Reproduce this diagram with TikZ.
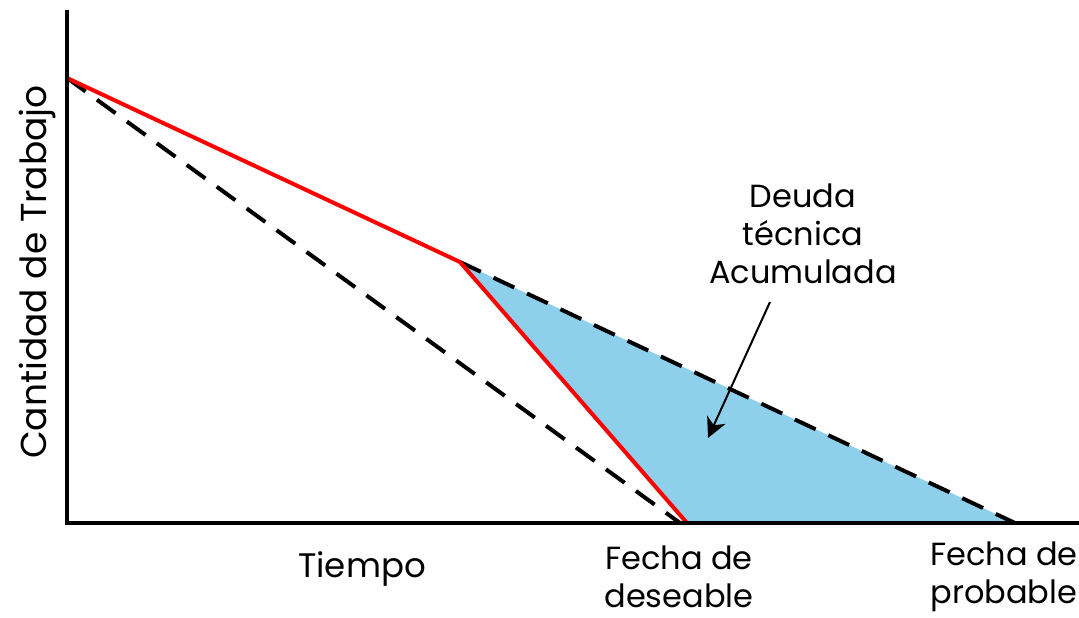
\documentclass[tikz,border=0pt]{standalone}
\usepackage{fontspec}
\setmainfont{Poppins}
\usetikzlibrary{positioning,calc}
\usetikzlibrary{arrows,arrows.meta}
\definecolor{deuda}{HTML}{8ECFEC}

\begin{document}
\begin{tikzpicture}[>={Stealth[length=20pt, width=20pt, inset=6pt]}, x=1pt, y=-1pt,
    eje/.style={line width=4.5pt},
    plan/.style={line width=4pt, dash pattern=on 23pt off 14pt},
    real/.style={red, line width=4pt},
    etiqueta/.style={font=\fontsize{32}{38}\selectfont, align=center, inner sep=0pt}]

    \useasboundingbox (0, 0) rectangle (1079, 618);

    \def\ox{67}
    \def\oy{523}
    \coordinate (o) at (\ox, \oy);
    \coordinate (ytop) at (\ox, 10);
    \coordinate (xend) at (1079, \oy);
    \coordinate (inicio) at (\ox, 78);
    \coordinate (quiebre) at (460, 262);
    \coordinate (deseable) at (687, \oy);
    \coordinate (ideal) at (680, \oy);
    \coordinate (probable) at (1015, \oy);

    % deuda acumulada
    \fill [deuda] (quiebre) -- (deseable) -- (probable) -- cycle;

    \draw [plan] (inicio) -- (ideal);
    \draw [plan] (quiebre) -- (probable);
    \draw [real, line join=bevel] (inicio) -- (quiebre) -- (deseable);

    \draw [eje] (ytop) -- (o) -- (xend);

    \node [etiqueta] (deuda) at (803, 234) {Deuda\\técnica\\Acumulada};
    \coordinate (desde) at (770, 302);
    \coordinate (flecha) at (708, 438);
    \draw [->, line width=2pt] (desde) -- (flecha);

    \node [etiqueta, font=\fontsize{36}{38}\selectfont, rotate=90] (cantidad) at (37, 272) {Cantidad de Trabajo};
    \node [etiqueta, font=\fontsize{34}{38}\selectfont] (tiempo) at (362, 569) {Tiempo};
    \node [etiqueta] (fdeseable) at (679, 577) {Fecha de\\deseable};
    \node [etiqueta] (fprobable) at (1004, 577) {Fecha de\\probable};

\end{tikzpicture}
\end{document}
